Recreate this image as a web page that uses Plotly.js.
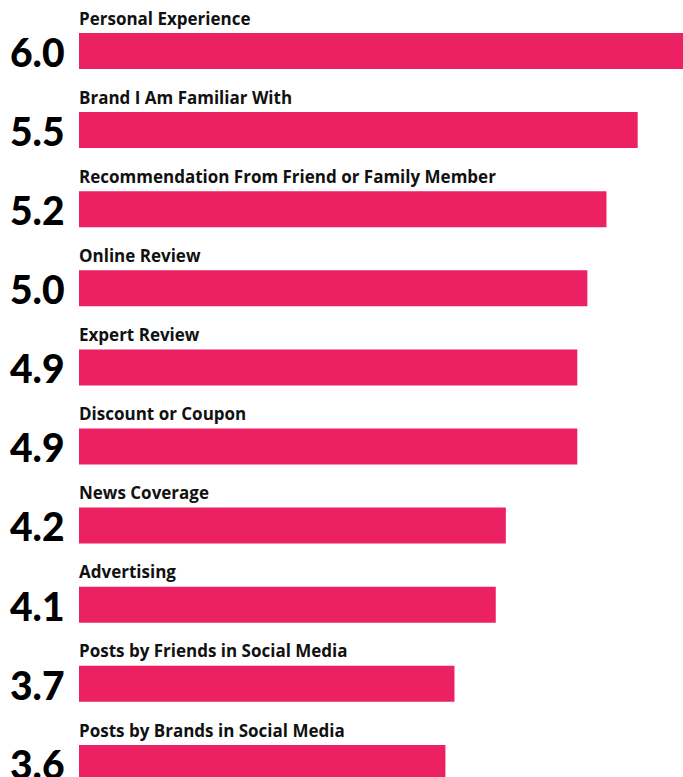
<!DOCTYPE html>
<html>
<head>
<meta charset="utf-8">
<script src="https://cdn.plot.ly/plotly-3.0.1.min.js"></script>
<style>html,body{margin:0;padding:0;background:#fff;}#chart{width:683px;height:777px;}</style>
</head>
<body>
<div id="chart"></div>
<script>
const categories = [
  "Personal Experience",
  "Brand I Am Familiar With",
  "Recommendation From Friend or Family Member",
  "Online Review",
  "Expert Review",
  "Discount or Coupon",
  "News Coverage",
  "Advertising",
  "Posts by Friends in Social Media",
  "Posts by Brands in Social Media"
];
const values = [6.0, 5.55, 5.24, 5.05, 4.95, 4.95, 4.24, 4.14, 3.73, 3.64];
const valueLabels = ["6.0", "5.5", "5.2", "5.0", "4.9", "4.9", "4.2", "4.1", "3.7", "3.6"];

const pink = "#EC2163";
const labelFont = "'Open Sans', Lato, sans-serif";
const numFont = "Lato, 'Open Sans', sans-serif";
const positions = categories.map((c, i) => i);

const trace = {
  type: "bar",
  orientation: "h",
  x: values,
  y: positions,
  width: 0.455,
  marker: {color: pink},
  hoverinfo: "skip"
};

const annotations = [];
categories.forEach((c, i) => {
  annotations.push({
    xref: "paper", yref: "y", x: 0, y: positions[i] - 0.415,
    xanchor: "left", yanchor: "middle", xshift: -2,
    text: c, showarrow: false,
    font: {family: labelFont, size: 17, color: "#111", weight: 700}
  });
  annotations.push({
    xref: "paper", yref: "y", x: 0, y: positions[i] + 0.01,
    xanchor: "right", yanchor: "middle", xshift: -12,
    text: valueLabels[i], showarrow: false,
    font: {family: numFont, size: 39, color: "#000", weight: 900}
  });
});

const layout = {
  width: 683, height: 777,
  margin: {l: 79, r: 0, t: 0, b: 0},
  paper_bgcolor: "#fff", plot_bgcolor: "#fff",
  showlegend: false,
  xaxis: {range: [0, 6.0], visible: false, fixedrange: true},
  yaxis: {range: [9.178, -0.645], visible: false, fixedrange: true},
  annotations: annotations
};

Plotly.newPlot("chart", [trace], layout, {displayModeBar: false, staticPlot: true});
</script>
</body>
</html>
